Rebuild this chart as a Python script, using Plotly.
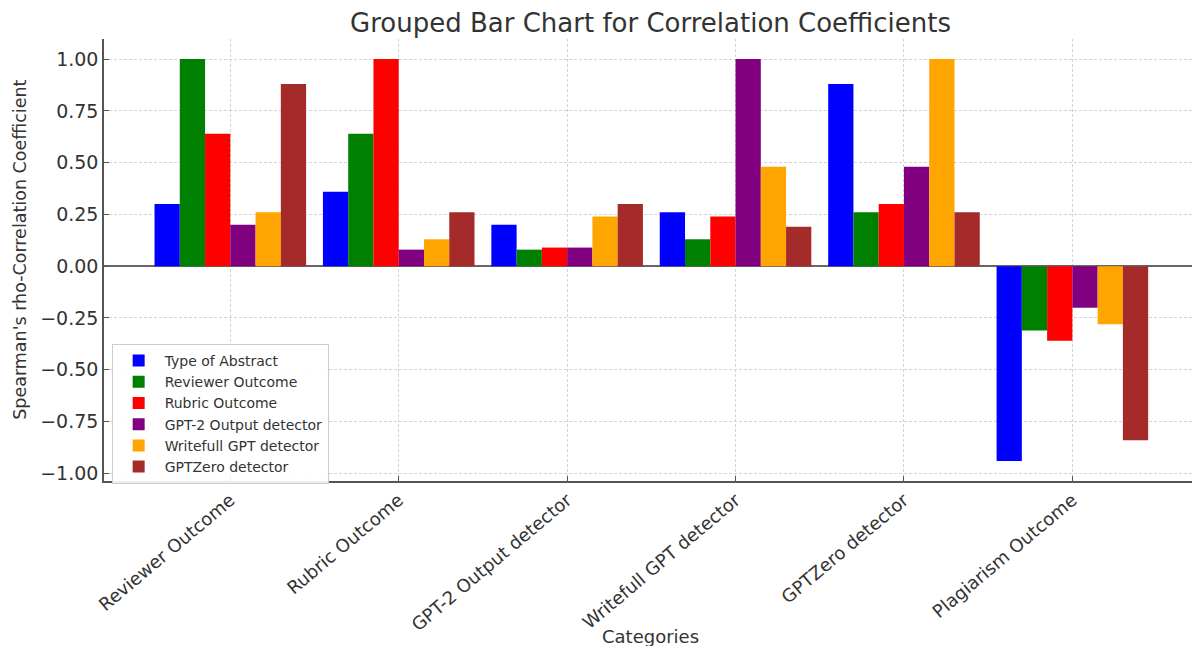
import plotly.graph_objects as go

categories = ["Reviewer Outcome", "Rubric Outcome", "GPT-2 Output detector",
              "Writefull GPT detector", "GPTZero detector", "Plagiarism Outcome"]

type_of_abstract = [0.30, 0.36, 0.20, 0.26, 0.88, -0.94]
reviewer_outcome = [1.00, 0.64, 0.08, 0.13, 0.26, -0.31]
rubric_outcome = [0.64, 1.00, 0.09, 0.24, 0.30, -0.36]
gpt2_output_detector = [0.20, 0.08, 0.09, 1.00, 0.48, -0.20]
writefull_gpt_detector = [0.26, 0.13, 0.24, 0.48, 1.00, -0.28]
gptzero_detector = [0.88, 0.26, 0.30, 0.19, 0.26, -0.84]

y_ticks = [-1.0, -0.75, -0.5, -0.25, 0.0, 0.25, 0.5, 0.75, 1.0]
y_tick_labels = ["\u22121.00", "\u22120.75", "\u22120.50", "\u22120.25", "0.00",
                 "0.25", "0.50", "0.75", "1.00"]

series = [
    ("Type of Abstract", type_of_abstract, "#0000FF"),
    ("Reviewer Outcome", reviewer_outcome, "#008000"),
    ("Rubric Outcome", rubric_outcome, "#FF0000"),
    ("GPT-2 Output detector", gpt2_output_detector, "#800080"),
    ("Writefull GPT detector", writefull_gpt_detector, "#FFA500"),
    ("GPTZero detector", gptzero_detector, "#A52A2A"),
]

fig = go.Figure()
for name, vals, col in series:
    fig.add_trace(go.Bar(name=name, x=categories, y=vals, marker_color=col,
                         marker_line_width=0))

font_fam = "DejaVu Sans"
txt = "#333333"
fig.update_layout(
    barmode="group",
    bargap=0.1,
    bargroupgap=0,
    width=1192, height=638,
    margin=dict(l=96, r=3, t=31, b=165),
    plot_bgcolor="white", paper_bgcolor="white",
    font=dict(family=font_fam, color=txt),
    title=dict(text="Grouped Bar Chart for Correlation Coefficients",
               x=0.5, xref="paper", xanchor="center",
               y=1 - 15 / 638, yref="container", yanchor="middle",
               font=dict(size=26, color=txt)),
    legend=dict(x=0.007, y=0.31, xanchor="left", yanchor="top",
                bgcolor="rgba(255,255,255,0.9)", bordercolor="#cccccc", borderwidth=1,
                font=dict(size=14, color=txt), tracegroupgap=0,
                itemwidth=42),
    showlegend=True,
    annotations=[
        dict(text="Categories", xref="paper", yref="paper", x=0.5, y=-0.351,
             xanchor="center", yanchor="middle", showarrow=False,
             font=dict(size=18, color=txt)),
        dict(text="Spearman's rho-Correlation Coefficient", xref="paper", yref="paper",
             x=-0.0769, y=0.523, xanchor="center", yanchor="middle", showarrow=False,
             textangle=-90, font=dict(size=17.5, color=txt)),
    ],
)
fig.update_xaxes(
    range=[-0.75, 5.74],
    showline=True, linecolor="#555555", linewidth=1.5,
    ticks="inside", ticklen=5, tickcolor="#555555",
    tickangle=-40, tickfont=dict(size=18, color=txt),
    showgrid=True, gridcolor="#d4d4d4", griddash="3px,2px", gridwidth=1,
)
fig.update_yaxes(
    range=[-1.037, 1.097],
    tickvals=y_ticks,
    ticktext=y_tick_labels,
    showline=True, linecolor="#555555", linewidth=1.5,
    ticks="inside", ticklen=5, tickcolor="#555555",
    tickfont=dict(size=19, color=txt),
    showgrid=True, gridcolor="#d4d4d4", griddash="3px,2px", gridwidth=1,
    zeroline=True, zerolinecolor="#666666", zerolinewidth=1.5,
)
fig.write_html("out.html")
